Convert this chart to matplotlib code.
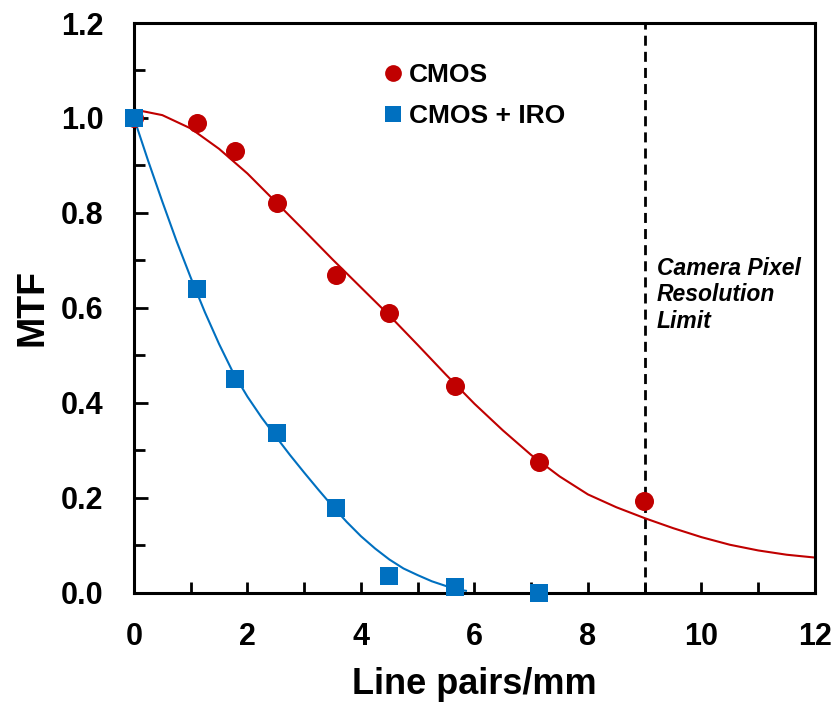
import numpy as np
import matplotlib.pyplot as plt

plt.rcParams['font.family'] = ['Liberation Sans', 'DejaVu Sans']
plt.rcParams['font.weight'] = 'bold'

# medidos: MTF vs frecuencia espacial (line pairs/mm)
lp_cmos = [0, 1.12, 1.78, 2.52, 3.56, 4.49, 5.66, 7.13, 8.98]
mtf_cmos = [1.0, 0.99, 0.93, 0.821, 0.669, 0.590, 0.436, 0.275, 0.194]

lp_iro = [0, 1.12, 1.78, 2.52, 3.56, 4.49, 5.66, 7.13]
mtf_iro = [1.0, 0.64, 0.45, 0.336, 0.178, 0.035, 0.011, 0.0]

# curvas de ajuste
fit_x_cmos = [0, 0.5, 1, 1.5, 2, 2.5, 3, 3.5, 4, 4.5, 5, 5.5, 6, 6.5, 7, 7.5,
              8, 8.5, 9, 9.5, 10, 10.5, 11, 11.5, 12]
fit_y_cmos = [1.018, 1.006, 0.978, 0.935, 0.883, 0.823, 0.763, 0.702, 0.643,
              0.584, 0.522, 0.459, 0.398, 0.342, 0.290, 0.245, 0.207, 0.180,
              0.157, 0.136, 0.117, 0.101, 0.089, 0.080, 0.074]

fit_x_iro = [0, 0.25, 0.5, 0.75, 1, 1.25, 1.5, 1.75, 2, 2.25, 2.5, 2.75, 3,
             3.25, 3.5, 3.75, 4, 4.25, 4.5, 4.75, 5, 5.25, 5.5, 5.75, 5.85]
fit_y_iro = [1.000, 0.910, 0.824, 0.741, 0.664, 0.591, 0.524, 0.463, 0.413,
             0.369, 0.329, 0.290, 0.253, 0.217, 0.182, 0.149, 0.119, 0.093,
             0.070, 0.051, 0.037, 0.024, 0.014, 0.006, 0.004]

pixel_limit = 9

red = '#C00000'
blue = '#0070C0'

fig = plt.figure(figsize=(8.37, 7.02), dpi=100)
ax = fig.add_axes([0.160, 0.1557, 0.8137, 0.8115])

ax.plot(fit_x_cmos, fit_y_cmos, '-', color=red, lw=1.5, zorder=2)
ax.plot(fit_x_iro, fit_y_iro, '-', color=blue, lw=1.5, zorder=2)
ax.plot(lp_cmos, mtf_cmos, 'o', color=red, ms=13.7, mew=0, label='CMOS',
        zorder=3, clip_on=False)
ax.plot(lp_iro, mtf_iro, 's', color=blue, ms=12.5, mew=0, label='CMOS + IRO',
        zorder=4, clip_on=False)

# limite de resolucion de la camara
ax.axvline(pixel_limit, color='black', lw=2, ls=(0, (3.6, 2.2)), zorder=1)
ax.text(pixel_limit + 0.21, 0.708, 'Camera Pixel\nResolution\nLimit',
        fontsize=16.5, fontweight='bold', fontstyle='italic', va='top', ha='left',
        linespacing=1.2)

ax.set_xlim(0, 12)
ax.set_ylim(0, 1.2)
ax.set_xticks(np.arange(0, 13, 2))
ax.set_xticks(np.arange(1, 12, 2), minor=True)
ax.set_yticks(np.arange(0, 1.21, 0.2))
ax.set_yticks(np.arange(0.1, 1.2, 0.2), minor=True)
ax.xaxis.set_major_formatter(plt.FormatStrFormatter('%d'))
ax.yaxis.set_major_formatter(plt.FormatStrFormatter('%.1f'))

ax.tick_params(axis='both', which='both', direction='in', top=False, right=False,
               width=2, labelsize=22)
ax.tick_params(axis='x', which='both', length=8, pad=21)
ax.tick_params(axis='y', which='major', length=10, pad=22)
ax.tick_params(axis='y', which='minor', length=8)
for s in ax.spines.values():
    s.set_linewidth(2.2)

ax.set_xlabel('Line pairs/mm', fontsize=26, fontweight='bold')
ax.set_ylabel('MTF', fontsize=27, fontweight='bold')
ax.xaxis.set_label_coords(0.5, -0.130)
ax.yaxis.set_label_coords(-0.123, 0.5)

ax.legend(loc='upper left', bbox_to_anchor=(0.3665, 0.93), frameon=False,
          fontsize=19, handlelength=0.75, handletextpad=0.2, labelspacing=0.65,
          borderpad=0, borderaxespad=0, markerscale=0.88)

fig.savefig('out.png', dpi=100)
